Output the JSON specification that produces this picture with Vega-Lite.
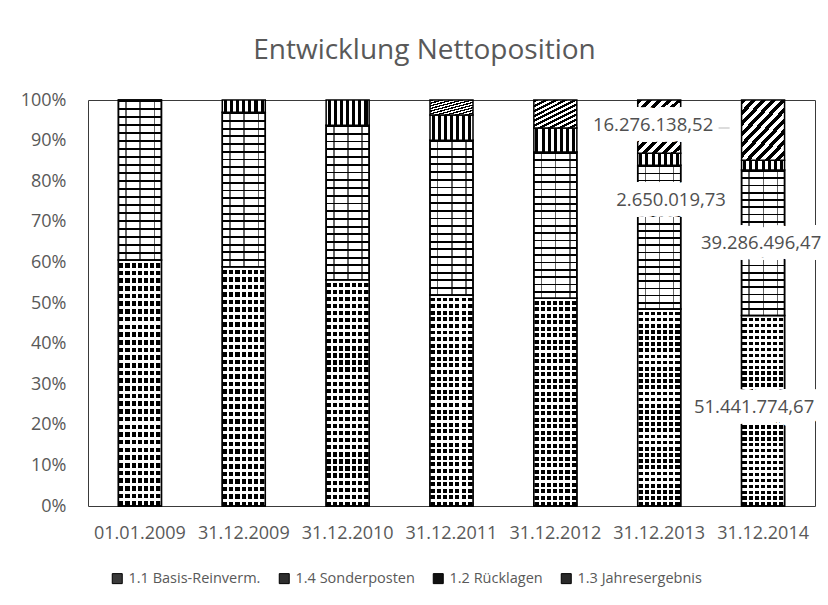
{
  "$schema": "https://vega.github.io/schema/vega-lite/v6.json",
  "width": 727,
  "height": 406,
  "autosize": {"type": "none"},
  "padding": {"left": 88, "top": 100, "right": 13, "bottom": 99},
  "background": "white",
  "title": {"text": "Entwicklung Nettoposition", "fontSize": 28, "font": "Open Sans", "fontWeight": "normal", "color": "#595959", "anchor": "middle", "dx": -27, "offset": 26},
  "config": {
    "locale": {"number": {"decimal": ",", "thousands": ".", "grouping": [3], "currency": ["", "€"]}},
    "view": {"stroke": "#3a3a3a", "strokeWidth": 1},
    "font": "Open Sans",
    "axis": {"labelFont": "Open Sans", "labelColor": "#595959", "labelFontSize": 18, "domain": false, "ticks": false, "grid": false, "title": null}
  },
  "data": {"values": [
    {"stichtag": "01.01.2009", "reihe": "1.1 Basis-Reinverm.", "rang": 1, "anteil": 60.6},
    {"stichtag": "01.01.2009", "reihe": "1.4 Sonderposten", "rang": 2, "anteil": 39.4},
    {"stichtag": "31.12.2009", "reihe": "1.1 Basis-Reinverm.", "rang": 1, "anteil": 58.9},
    {"stichtag": "31.12.2009", "reihe": "1.4 Sonderposten", "rang": 2, "anteil": 38.1},
    {"stichtag": "31.12.2009", "reihe": "1.2 Rücklagen", "rang": 3, "anteil": 3.0},
    {"stichtag": "31.12.2010", "reihe": "1.1 Basis-Reinverm.", "rang": 1, "anteil": 55.7},
    {"stichtag": "31.12.2010", "reihe": "1.4 Sonderposten", "rang": 2, "anteil": 38.1},
    {"stichtag": "31.12.2010", "reihe": "1.2 Rücklagen", "rang": 3, "anteil": 6.2},
    {"stichtag": "31.12.2011", "reihe": "1.1 Basis-Reinverm.", "rang": 1, "anteil": 52.0},
    {"stichtag": "31.12.2011", "reihe": "1.4 Sonderposten", "rang": 2, "anteil": 38.1},
    {"stichtag": "31.12.2011", "reihe": "1.2 Rücklagen", "rang": 3, "anteil": 6.2},
    {"stichtag": "31.12.2011", "reihe": "1.3 Jahresergebnis", "rang": 4, "anteil": 3.7},
    {"stichtag": "31.12.2012", "reihe": "1.1 Basis-Reinverm.", "rang": 1, "anteil": 51.2},
    {"stichtag": "31.12.2012", "reihe": "1.4 Sonderposten", "rang": 2, "anteil": 36.0},
    {"stichtag": "31.12.2012", "reihe": "1.2 Rücklagen", "rang": 3, "anteil": 5.9},
    {"stichtag": "31.12.2012", "reihe": "1.3 Jahresergebnis", "rang": 4, "anteil": 6.9},
    {"stichtag": "31.12.2013", "reihe": "1.1 Basis-Reinverm.", "rang": 1, "anteil": 48.5},
    {"stichtag": "31.12.2013", "reihe": "1.4 Sonderposten", "rang": 2, "anteil": 35.4},
    {"stichtag": "31.12.2013", "reihe": "1.2 Rücklagen", "rang": 3, "anteil": 3.0},
    {"stichtag": "31.12.2013", "reihe": "1.3 Jahresergebnis", "rang": 4, "anteil": 13.1},
    {"stichtag": "31.12.2014", "reihe": "1.1 Basis-Reinverm.", "rang": 1, "anteil": 46.91, "betrag": 51441774.67},
    {"stichtag": "31.12.2014", "reihe": "1.4 Sonderposten", "rang": 2, "anteil": 35.83, "betrag": 39286496.47},
    {"stichtag": "31.12.2014", "reihe": "1.2 Rücklagen", "rang": 3, "anteil": 2.42, "betrag": 2650019.73},
    {"stichtag": "31.12.2014", "reihe": "1.3 Jahresergebnis", "rang": 4, "anteil": 14.84, "betrag": 16276138.52}
  ]},
  "transform": [
    {"stack": "anteil", "groupby": ["stichtag"], "sort": [{"field": "rang", "order": "ascending"}], "offset": "normalize", "as": ["y0", "y1"]}
  ],
  "encoding": {
    "x": {"field": "stichtag", "type": "nominal", "scale": {"domain": ["01.01.2009", "31.12.2009", "31.12.2010", "31.12.2011", "31.12.2012", "31.12.2013", "31.12.2014"], "paddingInner": 0.586, "paddingOuter": 0.293}, "axis": {"labelAngle": 0, "labelPadding": 18, "title": null}},
    "y": {"field": "y1", "type": "quantitative", "scale": {"domain": [0, 1]}, "axis": {"format": ".0%", "values": [0, 0.1, 0.2, 0.3, 0.4, 0.5, 0.6, 0.7, 0.8, 0.9, 1], "labelPadding": 22, "title": null}}
  },
  "layer": [
    {
      "transform": [{"filter": "datum.reihe === '1.1 Basis-Reinverm.'"}],
      "mark": {"type": "bar", "stroke": "#000", "strokeWidth": 1.5, "fill": {"gradient": "linear", "x1": 0, "y1": 0, "x2": 1, "y2": 0, "stops": [{"offset":0,"color":"#fff"},{"offset":0.02,"color":"#fff"},{"offset":0.02,"color":"#000"},{"offset":0.115,"color":"#000"},{"offset":0.115,"color":"#fff"},{"offset":0.163,"color":"#fff"},{"offset":0.163,"color":"#000"},{"offset":0.258,"color":"#000"},{"offset":0.258,"color":"#fff"},{"offset":0.306,"color":"#fff"},{"offset":0.306,"color":"#000"},{"offset":0.401,"color":"#000"},{"offset":0.401,"color":"#fff"},{"offset":0.449,"color":"#fff"},{"offset":0.449,"color":"#000"},{"offset":0.544,"color":"#000"},{"offset":0.544,"color":"#fff"},{"offset":0.591,"color":"#fff"},{"offset":0.591,"color":"#000"},{"offset":0.686,"color":"#000"},{"offset":0.686,"color":"#fff"},{"offset":0.734,"color":"#fff"},{"offset":0.734,"color":"#000"},{"offset":0.829,"color":"#000"},{"offset":0.829,"color":"#fff"},{"offset":0.877,"color":"#fff"},{"offset":0.877,"color":"#000"},{"offset":0.972,"color":"#000"},{"offset":0.972,"color":"#fff"},{"offset":1,"color":"#fff"}]}},
      "encoding": {
        "y2": {"field": "y0"},
        "color": {"field": "reihe", "type": "nominal", "scale": {"domain": ["1.1 Basis-Reinverm.", "1.4 Sonderposten", "1.2 Rücklagen", "1.3 Jahresergebnis"], "range": ["#3a3a3a", "#2e2e2e", "#111111", "#2a2a2a"]}, "legend": {"orient": "none", "legendX": 22, "legendY": 471, "direction": "horizontal", "title": null, "symbolType": "square", "symbolSize": 100, "symbolStrokeColor": "#000", "symbolStrokeWidth": 1, "labelFont": "Open Sans", "labelFontSize": 14.5, "labelColor": "#595959", "columnPadding": 16, "labelOffset": 4}}
      }
    },
    {
      "transform": [{"filter": "datum.reihe === '1.1 Basis-Reinverm.'"}],
      "mark": {"type": "bar", "stroke": "#000", "strokeWidth": 1.5, "fill": {"gradient": "linear", "x1": 0, "y1": 0, "x2": 0, "y2": 1, "stops": [
        {"offset":0,"color":"#fff"},{"offset":0.0125,"color":"#fff"},{"offset":0.0125,"color":"rgba(255,255,255,0)"},{"offset":0.03125,"color":"rgba(255,255,255,0)"},
        {"offset":0.03125,"color":"#fff"},{"offset":0.04375,"color":"#fff"},{"offset":0.04375,"color":"rgba(255,255,255,0)"},{"offset":0.0625,"color":"rgba(255,255,255,0)"},
        {"offset":0.0625,"color":"#fff"},{"offset":0.075,"color":"#fff"},{"offset":0.075,"color":"rgba(255,255,255,0)"},{"offset":0.09375,"color":"rgba(255,255,255,0)"},
        {"offset":0.09375,"color":"#fff"},{"offset":0.10625,"color":"#fff"},{"offset":0.10625,"color":"rgba(255,255,255,0)"},{"offset":0.125,"color":"rgba(255,255,255,0)"},
        {"offset":0.125,"color":"#fff"},{"offset":0.1375,"color":"#fff"},{"offset":0.1375,"color":"rgba(255,255,255,0)"},{"offset":0.15625,"color":"rgba(255,255,255,0)"},
        {"offset":0.15625,"color":"#fff"},{"offset":0.16875,"color":"#fff"},{"offset":0.16875,"color":"rgba(255,255,255,0)"},{"offset":0.1875,"color":"rgba(255,255,255,0)"},
        {"offset":0.1875,"color":"#fff"},{"offset":0.2,"color":"#fff"},{"offset":0.2,"color":"rgba(255,255,255,0)"},{"offset":0.21875,"color":"rgba(255,255,255,0)"},
        {"offset":0.21875,"color":"#fff"},{"offset":0.23125,"color":"#fff"},{"offset":0.23125,"color":"rgba(255,255,255,0)"},{"offset":0.25,"color":"rgba(255,255,255,0)"},
        {"offset":0.25,"color":"#fff"},{"offset":0.2625,"color":"#fff"},{"offset":0.2625,"color":"rgba(255,255,255,0)"},{"offset":0.28125,"color":"rgba(255,255,255,0)"},
        {"offset":0.28125,"color":"#fff"},{"offset":0.29375,"color":"#fff"},{"offset":0.29375,"color":"rgba(255,255,255,0)"},{"offset":0.3125,"color":"rgba(255,255,255,0)"},
        {"offset":0.3125,"color":"#fff"},{"offset":0.325,"color":"#fff"},{"offset":0.325,"color":"rgba(255,255,255,0)"},{"offset":0.34375,"color":"rgba(255,255,255,0)"},
        {"offset":0.34375,"color":"#fff"},{"offset":0.35625,"color":"#fff"},{"offset":0.35625,"color":"rgba(255,255,255,0)"},{"offset":0.375,"color":"rgba(255,255,255,0)"},
        {"offset":0.375,"color":"#fff"},{"offset":0.3875,"color":"#fff"},{"offset":0.3875,"color":"rgba(255,255,255,0)"},{"offset":0.40625,"color":"rgba(255,255,255,0)"},
        {"offset":0.40625,"color":"#fff"},{"offset":0.41875,"color":"#fff"},{"offset":0.41875,"color":"rgba(255,255,255,0)"},{"offset":0.4375,"color":"rgba(255,255,255,0)"},
        {"offset":0.4375,"color":"#fff"},{"offset":0.45,"color":"#fff"},{"offset":0.45,"color":"rgba(255,255,255,0)"},{"offset":0.46875,"color":"rgba(255,255,255,0)"},
        {"offset":0.46875,"color":"#fff"},{"offset":0.48125,"color":"#fff"},{"offset":0.48125,"color":"rgba(255,255,255,0)"},{"offset":0.5,"color":"rgba(255,255,255,0)"},
        {"offset":0.5,"color":"#fff"},{"offset":0.5125,"color":"#fff"},{"offset":0.5125,"color":"rgba(255,255,255,0)"},{"offset":0.53125,"color":"rgba(255,255,255,0)"},
        {"offset":0.53125,"color":"#fff"},{"offset":0.54375,"color":"#fff"},{"offset":0.54375,"color":"rgba(255,255,255,0)"},{"offset":0.5625,"color":"rgba(255,255,255,0)"},
        {"offset":0.5625,"color":"#fff"},{"offset":0.575,"color":"#fff"},{"offset":0.575,"color":"rgba(255,255,255,0)"},{"offset":0.59375,"color":"rgba(255,255,255,0)"},
        {"offset":0.59375,"color":"#fff"},{"offset":0.60625,"color":"#fff"},{"offset":0.60625,"color":"rgba(255,255,255,0)"},{"offset":0.625,"color":"rgba(255,255,255,0)"},
        {"offset":0.625,"color":"#fff"},{"offset":0.6375,"color":"#fff"},{"offset":0.6375,"color":"rgba(255,255,255,0)"},{"offset":0.65625,"color":"rgba(255,255,255,0)"},
        {"offset":0.65625,"color":"#fff"},{"offset":0.66875,"color":"#fff"},{"offset":0.66875,"color":"rgba(255,255,255,0)"},{"offset":0.6875,"color":"rgba(255,255,255,0)"},
        {"offset":0.6875,"color":"#fff"},{"offset":0.7,"color":"#fff"},{"offset":0.7,"color":"rgba(255,255,255,0)"},{"offset":0.71875,"color":"rgba(255,255,255,0)"},
        {"offset":0.71875,"color":"#fff"},{"offset":0.73125,"color":"#fff"},{"offset":0.73125,"color":"rgba(255,255,255,0)"},{"offset":0.75,"color":"rgba(255,255,255,0)"},
        {"offset":0.75,"color":"#fff"},{"offset":0.7625,"color":"#fff"},{"offset":0.7625,"color":"rgba(255,255,255,0)"},{"offset":0.78125,"color":"rgba(255,255,255,0)"},
        {"offset":0.78125,"color":"#fff"},{"offset":0.79375,"color":"#fff"},{"offset":0.79375,"color":"rgba(255,255,255,0)"},{"offset":0.8125,"color":"rgba(255,255,255,0)"},
        {"offset":0.8125,"color":"#fff"},{"offset":0.825,"color":"#fff"},{"offset":0.825,"color":"rgba(255,255,255,0)"},{"offset":0.84375,"color":"rgba(255,255,255,0)"},
        {"offset":0.84375,"color":"#fff"},{"offset":0.85625,"color":"#fff"},{"offset":0.85625,"color":"rgba(255,255,255,0)"},{"offset":0.875,"color":"rgba(255,255,255,0)"},
        {"offset":0.875,"color":"#fff"},{"offset":0.8875,"color":"#fff"},{"offset":0.8875,"color":"rgba(255,255,255,0)"},{"offset":0.90625,"color":"rgba(255,255,255,0)"},
        {"offset":0.90625,"color":"#fff"},{"offset":0.91875,"color":"#fff"},{"offset":0.91875,"color":"rgba(255,255,255,0)"},{"offset":0.9375,"color":"rgba(255,255,255,0)"},
        {"offset":0.9375,"color":"#fff"},{"offset":0.95,"color":"#fff"},{"offset":0.95,"color":"rgba(255,255,255,0)"},{"offset":0.96875,"color":"rgba(255,255,255,0)"},
        {"offset":0.96875,"color":"#fff"},{"offset":0.98125,"color":"#fff"},{"offset":0.98125,"color":"rgba(255,255,255,0)"},{"offset":1,"color":"rgba(255,255,255,0)"}
      ]}},
      "encoding": {"y2": {"field": "y0"}}
    },
    {
      "transform": [{"filter": "datum.reihe === '1.4 Sonderposten'"}],
      "mark": {"type": "bar", "stroke": "#000", "strokeWidth": 1.5, "fill": {"gradient": "linear", "x1": 0, "y1": 0, "x2": 0, "y2": 1, "stops": [
        {"offset":0,"color":"#000"},{"offset":0.012,"color":"#000"},{"offset":0.012,"color":"#fff"},{"offset":0.05,"color":"#fff"},
        {"offset":0.05,"color":"#000"},{"offset":0.062,"color":"#000"},{"offset":0.062,"color":"#fff"},{"offset":0.1,"color":"#fff"},
        {"offset":0.1,"color":"#000"},{"offset":0.112,"color":"#000"},{"offset":0.112,"color":"#fff"},{"offset":0.15,"color":"#fff"},
        {"offset":0.15,"color":"#000"},{"offset":0.162,"color":"#000"},{"offset":0.162,"color":"#fff"},{"offset":0.2,"color":"#fff"},
        {"offset":0.2,"color":"#000"},{"offset":0.212,"color":"#000"},{"offset":0.212,"color":"#fff"},{"offset":0.25,"color":"#fff"},
        {"offset":0.25,"color":"#000"},{"offset":0.262,"color":"#000"},{"offset":0.262,"color":"#fff"},{"offset":0.3,"color":"#fff"},
        {"offset":0.3,"color":"#000"},{"offset":0.312,"color":"#000"},{"offset":0.312,"color":"#fff"},{"offset":0.35,"color":"#fff"},
        {"offset":0.35,"color":"#000"},{"offset":0.362,"color":"#000"},{"offset":0.362,"color":"#fff"},{"offset":0.4,"color":"#fff"},
        {"offset":0.4,"color":"#000"},{"offset":0.412,"color":"#000"},{"offset":0.412,"color":"#fff"},{"offset":0.45,"color":"#fff"},
        {"offset":0.45,"color":"#000"},{"offset":0.462,"color":"#000"},{"offset":0.462,"color":"#fff"},{"offset":0.5,"color":"#fff"},
        {"offset":0.5,"color":"#000"},{"offset":0.512,"color":"#000"},{"offset":0.512,"color":"#fff"},{"offset":0.55,"color":"#fff"},
        {"offset":0.55,"color":"#000"},{"offset":0.562,"color":"#000"},{"offset":0.562,"color":"#fff"},{"offset":0.6,"color":"#fff"},
        {"offset":0.6,"color":"#000"},{"offset":0.612,"color":"#000"},{"offset":0.612,"color":"#fff"},{"offset":0.65,"color":"#fff"},
        {"offset":0.65,"color":"#000"},{"offset":0.662,"color":"#000"},{"offset":0.662,"color":"#fff"},{"offset":0.7,"color":"#fff"},
        {"offset":0.7,"color":"#000"},{"offset":0.712,"color":"#000"},{"offset":0.712,"color":"#fff"},{"offset":0.75,"color":"#fff"},
        {"offset":0.75,"color":"#000"},{"offset":0.762,"color":"#000"},{"offset":0.762,"color":"#fff"},{"offset":0.8,"color":"#fff"},
        {"offset":0.8,"color":"#000"},{"offset":0.812,"color":"#000"},{"offset":0.812,"color":"#fff"},{"offset":0.85,"color":"#fff"},
        {"offset":0.85,"color":"#000"},{"offset":0.862,"color":"#000"},{"offset":0.862,"color":"#fff"},{"offset":0.9,"color":"#fff"},
        {"offset":0.9,"color":"#000"},{"offset":0.912,"color":"#000"},{"offset":0.912,"color":"#fff"},{"offset":0.95,"color":"#fff"},
        {"offset":0.95,"color":"#000"},{"offset":0.962,"color":"#000"},{"offset":0.962,"color":"#fff"},{"offset":1,"color":"#fff"}
      ]}},
      "encoding": {"y2": {"field": "y0"}}
    },
    {
      "transform": [{"filter": "datum.reihe === '1.4 Sonderposten'"}],
      "mark": {"type": "bar", "stroke": "#000", "strokeWidth": 1.5, "fill": {"gradient": "linear", "x1": 0, "y1": 0, "x2": 1, "y2": 0, "stops": [
        {"offset":0,"color":"rgba(0,0,0,0)"},{"offset":0.16,"color":"rgba(0,0,0,0)"},{"offset":0.16,"color":"rgba(0,0,0,0.6)"},{"offset":0.195,"color":"rgba(0,0,0,0.6)"},{"offset":0.195,"color":"rgba(0,0,0,0)"},
        {"offset":0.49,"color":"rgba(0,0,0,0)"},{"offset":0.49,"color":"rgba(0,0,0,0.6)"},{"offset":0.525,"color":"rgba(0,0,0,0.6)"},{"offset":0.525,"color":"rgba(0,0,0,0)"},
        {"offset":0.82,"color":"rgba(0,0,0,0)"},{"offset":0.82,"color":"rgba(0,0,0,0.6)"},{"offset":0.855,"color":"rgba(0,0,0,0.6)"},{"offset":0.855,"color":"rgba(0,0,0,0)"},{"offset":1,"color":"rgba(0,0,0,0)"}
      ]}},
      "encoding": {"y2": {"field": "y0"}}
    },
    {
      "transform": [{"filter": "datum.reihe === '1.2 Rücklagen'"}],
      "mark": {"type": "bar", "stroke": "#000", "strokeWidth": 1.5, "fill": {"gradient": "linear", "x1": 0, "y1": 0, "x2": 1, "y2": 0, "stops": [{"offset":0,"color":"#fff"},{"offset":0.035,"color":"#fff"},{"offset":0.035,"color":"#000"},{"offset":0.105,"color":"#000"},{"offset":0.105,"color":"#fff"},{"offset":0.178,"color":"#fff"},{"offset":0.178,"color":"#000"},{"offset":0.248,"color":"#000"},{"offset":0.248,"color":"#fff"},{"offset":0.321,"color":"#fff"},{"offset":0.321,"color":"#000"},{"offset":0.391,"color":"#000"},{"offset":0.391,"color":"#fff"},{"offset":0.464,"color":"#fff"},{"offset":0.464,"color":"#000"},{"offset":0.534,"color":"#000"},{"offset":0.534,"color":"#fff"},{"offset":0.606,"color":"#fff"},{"offset":0.606,"color":"#000"},{"offset":0.676,"color":"#000"},{"offset":0.676,"color":"#fff"},{"offset":0.749,"color":"#fff"},{"offset":0.749,"color":"#000"},{"offset":0.819,"color":"#000"},{"offset":0.819,"color":"#fff"},{"offset":0.892,"color":"#fff"},{"offset":0.892,"color":"#000"},{"offset":0.962,"color":"#000"},{"offset":0.962,"color":"#fff"},{"offset":1,"color":"#fff"}]}},
      "encoding": {"y2": {"field": "y0"}}
    },
    {
      "transform": [{"filter": "datum.reihe === '1.3 Jahresergebnis'"}],
      "mark": {"type": "bar", "stroke": "#000", "strokeWidth": 1.5, "fill": {"gradient": "linear", "x1": 0, "y1": 0, "x2": 0.855, "y2": 1.11, "stops": [
        {"offset":0,"color":"#000"},{"offset":0.05,"color":"#000"},{"offset":0.05,"color":"#fff"},{"offset":0.1,"color":"#fff"},
        {"offset":0.1,"color":"#000"},{"offset":0.15,"color":"#000"},{"offset":0.15,"color":"#fff"},{"offset":0.2,"color":"#fff"},
        {"offset":0.2,"color":"#000"},{"offset":0.25,"color":"#000"},{"offset":0.25,"color":"#fff"},{"offset":0.3,"color":"#fff"},
        {"offset":0.3,"color":"#000"},{"offset":0.35,"color":"#000"},{"offset":0.35,"color":"#fff"},{"offset":0.4,"color":"#fff"},
        {"offset":0.4,"color":"#000"},{"offset":0.45,"color":"#000"},{"offset":0.45,"color":"#fff"},{"offset":0.5,"color":"#fff"},
        {"offset":0.5,"color":"#000"},{"offset":0.55,"color":"#000"},{"offset":0.55,"color":"#fff"},{"offset":0.6,"color":"#fff"},
        {"offset":0.6,"color":"#000"},{"offset":0.65,"color":"#000"},{"offset":0.65,"color":"#fff"},{"offset":0.7,"color":"#fff"},
        {"offset":0.7,"color":"#000"},{"offset":0.75,"color":"#000"},{"offset":0.75,"color":"#fff"},{"offset":0.8,"color":"#fff"},
        {"offset":0.8,"color":"#000"},{"offset":0.85,"color":"#000"},{"offset":0.85,"color":"#fff"},{"offset":0.9,"color":"#fff"},
        {"offset":0.9,"color":"#000"},{"offset":0.95,"color":"#000"},{"offset":0.95,"color":"#fff"},{"offset":1,"color":"#fff"}
      ]}},
      "encoding": {"y2": {"field": "y0"}}
    },
    {
      "transform": [{"filter": "datum.reihe === '1.3 Jahresergebnis' && isValid(datum.betrag)"}],
      "mark": {"type": "text", "font": "Open Sans", "fontSize": 18.5, "align": "center", "baseline": "middle", "dx": -110, "dy": 25, "stroke": "#fff", "strokeWidth": 22, "strokeJoin": "round", "fill": "#fff"},
      "encoding": {"text": {"field": "betrag", "type": "quantitative", "format": ",.2f"}}
    },
    {
      "transform": [{"filter": "datum.reihe === '1.2 Rücklagen' && isValid(datum.betrag)"}],
      "mark": {"type": "text", "font": "Open Sans", "fontSize": 18.5, "align": "center", "baseline": "middle", "dx": -92, "dy": 40, "stroke": "#fff", "strokeWidth": 22, "strokeJoin": "round", "fill": "#fff"},
      "encoding": {"text": {"field": "betrag", "type": "quantitative", "format": ",.2f"}}
    },
    {
      "transform": [{"filter": "datum.reihe === '1.4 Sonderposten' && isValid(datum.betrag)"}],
      "mark": {"type": "text", "font": "Open Sans", "fontSize": 18.5, "align": "center", "baseline": "middle", "dx": -2, "dy": 73, "stroke": "#fff", "strokeWidth": 22, "strokeJoin": "round", "fill": "#fff"},
      "encoding": {"text": {"field": "betrag", "type": "quantitative", "format": ",.2f"}}
    },
    {
      "transform": [{"filter": "datum.reihe === '1.1 Basis-Reinverm.' && isValid(datum.betrag)"}],
      "mark": {"type": "text", "font": "Open Sans", "fontSize": 18.5, "align": "center", "baseline": "middle", "dx": -9, "dy": 91, "stroke": "#fff", "strokeWidth": 22, "strokeJoin": "round", "fill": "#fff"},
      "encoding": {"text": {"field": "betrag", "type": "quantitative", "format": ",.2f"}}
    },
    {
      "transform": [{"filter": "datum.reihe === '1.3 Jahresergebnis' && isValid(datum.betrag)"}],
      "mark": {"type": "text", "font": "Open Sans", "fontSize": 18.5, "align": "center", "baseline": "middle", "dx": -110, "dy": 25, "fill": "#505050"},
      "encoding": {"text": {"field": "betrag", "type": "quantitative", "format": ",.2f"}}
    },
    {
      "transform": [{"filter": "datum.reihe === '1.2 Rücklagen' && isValid(datum.betrag)"}],
      "mark": {"type": "text", "font": "Open Sans", "fontSize": 18.5, "align": "center", "baseline": "middle", "dx": -92, "dy": 40, "fill": "#505050"},
      "encoding": {"text": {"field": "betrag", "type": "quantitative", "format": ",.2f"}}
    },
    {
      "transform": [{"filter": "datum.reihe === '1.4 Sonderposten' && isValid(datum.betrag)"}],
      "mark": {"type": "text", "font": "Open Sans", "fontSize": 18.5, "align": "center", "baseline": "middle", "dx": -2, "dy": 73, "fill": "#505050"},
      "encoding": {"text": {"field": "betrag", "type": "quantitative", "format": ",.2f"}}
    },
    {
      "transform": [{"filter": "datum.reihe === '1.1 Basis-Reinverm.' && isValid(datum.betrag)"}],
      "mark": {"type": "text", "font": "Open Sans", "fontSize": 18.5, "align": "center", "baseline": "middle", "dx": -9, "dy": 91, "fill": "#505050"},
      "encoding": {"text": {"field": "betrag", "type": "quantitative", "format": ",.2f"}}
    },
    {
      "transform": [{"filter": "datum.reihe === '1.3 Jahresergebnis' && isValid(datum.betrag)"}],
      "mark": {"type": "tick", "orient": "horizontal", "size": 11, "thickness": 1, "color": "#9a9a9a", "xOffset": -39, "yOffset": 28},
      "encoding": {}
    }
  ]
}
